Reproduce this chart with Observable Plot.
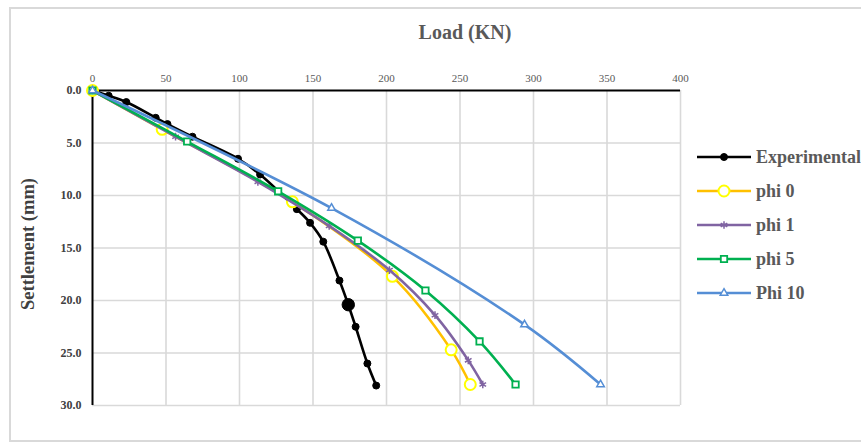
<!DOCTYPE html>
<html>
<head>
<meta charset="utf-8">
<script src="https://cdn.jsdelivr.net/npm/d3@7"></script>
<script src="https://cdn.jsdelivr.net/npm/@observablehq/plot@0.6"></script>
<style>
  html, body { margin: 0; padding: 0; background: #fff; overflow: hidden; }
  #wrap { position: relative; width: 861px; height: 446px; overflow: hidden; font-family: "Liberation Serif", "Times New Roman", serif; }
  #border { position: absolute; left: 9px; top: 7px; width: 900px; height: 435px; border: 2px solid #d9d9d9; box-sizing: border-box; }
  #title { position: absolute; left: 0; width: 930px; top: 20px; text-align: center; font-size: 20px; line-height: 24px; font-weight: bold; color: #595959; }
  #ylabel { position: absolute; left: 28px; top: 244px; transform: translate(-50%, -50%) rotate(-90deg); white-space: nowrap; font-size: 18.5px; font-weight: bold; color: #404040; }
  #chart { position: absolute; left: 0; top: 0; }
  #legend { position: absolute; left: 697px; top: 0; }
  .item { position: absolute; left: 0; height: 20px; white-space: nowrap; display: flex; align-items: center; }
  .item span { font-size: 18px; font-weight: bold; color: #595959; margin-left: 5px; }
  g[aria-label="y-axis tick label"] text { font-weight: bold; }
</style>
</head>
<body>
<div id="wrap">
  <div id="border"></div>
  <div id="chart"></div>
  <div id="title">Load (KN)</div>
  <div id="ylabel">Settlement (mm)</div>
  <div id="legend"></div>
</div>
<script>
// ---- data ----
const seriesNames = ["Experimental", "phi 0", "phi 1", "phi 5", "Phi 10"];

const expLoad    = [0, 11, 23, 43, 51, 68, 99, 114, 139, 148, 157, 168, 174, 179, 187, 193];
const expSettle  = [0, 0.5, 1.1, 2.6, 3.2, 4.4, 6.5, 8.0, 11.3, 12.6, 14.4, 18.1, 20.4, 22.5, 26.0, 28.1];

const phi0Load   = [0, 47.4, 136, 204, 244, 257];
const phi0Settle = [0, 3.7, 10.6, 17.7, 24.7, 28.0];

const phi1Load   = [0, 56.5, 112.5, 161, 202, 233, 255.6, 265.5];
const phi1Settle = [0, 4.4, 8.7, 12.9, 17.1, 21.4, 25.7, 28.0];

const phi5Load   = [0, 64.4, 126.3, 180.5, 226.5, 263.3, 287.8];
const phi5Settle = [0, 4.86, 9.6, 14.3, 19.05, 23.9, 28.0];

const phi10Load   = [0, 162.6, 293.9, 345.6];
const phi10Settle = [0, 11.2, 22.3, 28.0];

const xTicks = [0, 50, 100, 150, 200, 250, 300, 350, 400];
const yTicks = [0, 5, 10, 15, 20, 25, 30];

// ---- styles (kept separate from data) ----
const BIG_INDEX = 12; // enlarged experimental marker
const styles = [
  {line: "#000000", symbol: "circle",   stroke: "#000000", fill: "#000000", r: 3.5, sw: 1},
  {line: "#FFC000", symbol: "circle",   stroke: "#FFFF00", fill: "#ffffff", r: 5.5, sw: 2},
  {line: "#8064A2", symbol: "asterisk", stroke: "#8064A2", fill: "none",    r: 3.6, sw: 1.5},
  {line: "#00B050", symbol: "square",   stroke: "#00B050", fill: "#ffffff", r: 3.6, sw: 1.8},
  {line: "#558ED5", symbol: "triangle", stroke: "#558ED5", fill: "#ffffff", r: 2.8, sw: 1.5}
];

const loads = [expLoad, phi0Load, phi1Load, phi5Load, phi10Load];
const settles = [expSettle, phi0Settle, phi1Settle, phi5Settle, phi10Settle];
const tables = loads.map((L, s) => L.map((x, i) => ({x, y: settles[s][i], i})));

const marks = [
  Plot.gridX(xTicks.filter(d => d > 0), {stroke: "#d9d9d9", strokeOpacity: 1, strokeWidth: 1.6}),
  Plot.gridY(yTicks.filter(d => d > 0), {stroke: "#d9d9d9", strokeOpacity: 1, strokeWidth: 1.6}),
  Plot.ruleY([0], {stroke: "#000", strokeWidth: 2}),
  Plot.ruleX([0], {stroke: "#000", strokeWidth: 2}),
  Plot.axisX({anchor: "top", ticks: xTicks, tickSize: 0, tickPadding: 9, label: null,
              fontSize: 11, fill: "#595959"}),
  Plot.axisY({anchor: "left", ticks: yTicks, tickSize: 0, tickPadding: 11, label: null,
              tickFormat: d => d.toFixed(1), fontSize: 12, fill: "#404040", fontWeight: "bold"})
];

tables.forEach((t, s) => {
  const st = styles[s];
  marks.push(Plot.line(t, {x: "x", y: "y", stroke: st.line, strokeWidth: 2.6, curve: "catmull-rom"}));
  if (s === 0) {
    marks.push(Plot.dot(t, {x: "x", y: "y", symbol: st.symbol, fill: st.fill, stroke: st.stroke,
      r: d => d.i === BIG_INDEX ? 6.2 : st.r, strokeWidth: st.sw}));
  } else {
    marks.push(Plot.dot(t, {x: "x", y: "y", symbol: st.symbol, fill: st.fill, stroke: st.stroke,
      r: st.r, strokeWidth: st.sw}));
  }
});

const chart = Plot.plot({
  width: 861,
  height: 446,
  marginLeft: 92,
  marginRight: 181,
  marginTop: 90,
  marginBottom: 41,
  style: {fontFamily: "Liberation Serif, Times New Roman, serif", background: "transparent", overflow: "visible"},
  x: {domain: [0, 400]},
  y: {domain: [0, 30], reverse: true},
  r: {type: "identity"},
  marks
});
document.getElementById("chart").appendChild(chart);

// ---- legend ----
const legend = document.getElementById("legend");
seriesNames.forEach((name, s) => {
  const st = styles[s];
  const item = document.createElement("div");
  item.className = "item";
  item.style.top = (147 + s * 34) + "px";
  const svg = d3.create("svg").attr("width", 54).attr("height", 20);
  svg.append("line").attr("x1", 0).attr("x2", 54).attr("y1", 10).attr("y2", 10)
     .attr("stroke", st.line).attr("stroke-width", 2.6);
  const sym = {circle: d3.symbolCircle, square: d3.symbolSquare, triangle: d3.symbolTriangle, asterisk: d3.symbolAsterisk}[st.symbol];
  svg.append("path").attr("transform", "translate(27,10)")
     .attr("d", d3.symbol(sym, Math.PI * st.r * st.r)())
     .attr("fill", st.fill).attr("stroke", st.stroke).attr("stroke-width", st.sw);
  item.appendChild(svg.node());
  const span = document.createElement("span");
  span.textContent = name;
  item.appendChild(span);
  legend.appendChild(item);
});
</script>
</body>
</html>
